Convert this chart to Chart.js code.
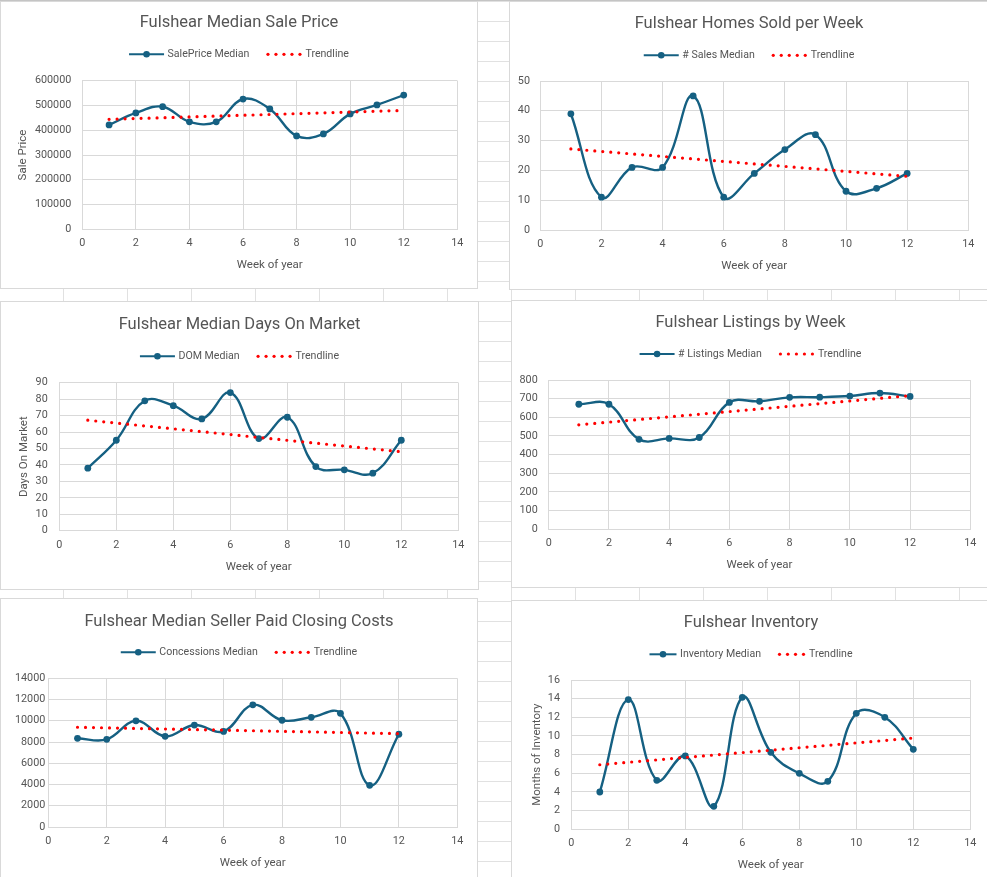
<!DOCTYPE html>
<html>
<head>
<meta charset="utf-8">
<script src="https://cdn.jsdelivr.net/npm/chart.js@4.4.1/dist/chart.umd.min.js"></script>
<style>
  html, body { margin: 0; padding: 0; }
  body {
    width: 987px; height: 877px; overflow: hidden; position: relative;
    background-color: #fff;
    background-image: linear-gradient(to right, #e1e1e1 1px, transparent 1px),
                      linear-gradient(to bottom, #e1e1e1 1px, transparent 1px);
    background-size: 64px 20px;
    background-position: -1px 1px;
  }
  .topline { position: absolute; left: 0; top: 0; width: 987px; height: 1px; background: #c4c4c4; }
  .box { position: absolute; background: #fff; outline: 1px solid #d9d9d9; outline-offset: -1px; }
  .box canvas { position: absolute; left: 0; top: 0; }
</style>
</head>
<body>
<div class="topline"></div>
<div class="box" style="left:0;top:1px;width:478px;height:288px"><canvas id="c1" width="478" height="288"></canvas></div>
<div class="box" style="left:509px;top:1px;width:480px;height:289px"><canvas id="c2" width="480" height="289"></canvas></div>
<div class="box" style="left:0;top:301px;width:479px;height:289px"><canvas id="c3" width="479" height="289"></canvas></div>
<div class="box" style="left:511px;top:300px;width:479px;height:288px"><canvas id="c4" width="479" height="288"></canvas></div>
<div class="box" style="left:0;top:598px;width:478px;height:290px"><canvas id="c5" width="478" height="290"></canvas></div>
<div class="box" style="left:511px;top:600px;width:480px;height:290px"><canvas id="c6" width="480" height="290"></canvas></div>

<script>
// week numbers shared by all six charts
const weeks = [1, 2, 3, 4, 5, 6, 7, 8, 9, 10, 11, 12];
const trendWeeks = [1, 12];

const salePrice = [421500, 470000, 495000, 434000, 434000, 526000, 486000, 377000, 385000, 466000, 502000, 542000];
const salePriceTrend = [444000, 480000];

const homesSold = [39, 11, 21, 21, 45, 11, 19, 27, 32, 13, 14, 19];
const homesSoldTrend = [27.2, 18.0];

const daysOnMarket = [38, 55, 79, 76, 68, 84, 56, 69, 39, 37, 35, 55];
const daysOnMarketTrend = [67.2, 48.0];

const listings = [670, 670, 482, 487, 492, 680, 686, 707, 708, 714, 730, 712];
const listingsTrend = [560, 716];

const concessions = [8350, 8250, 10000, 8540, 9600, 9000, 11500, 10050, 10330, 10700, 3920, 8730];
const concessionsTrend = [9390, 8790];

const inventory = [4.0, 13.9, 5.25, 7.86, 2.46, 14.14, 8.25, 6.0, 5.14, 12.43, 12.0, 8.57];
const inventoryTrend = [6.92, 9.78];

const BLUE = '#156082';
const TEXT = '#555555';
const GRID = '#d9d9d9';
const FONT = 'Roboto, "Liberation Sans", sans-serif';

// title + legend drawn Excel-style (line with marker, round dots)
const excelText = {
  id: 'excelText',
  afterDraw(chart, args, opts) {
    const ctx = chart.ctx;
    const cx = chart.width / 2;
    ctx.save();
    ctx.fillStyle = TEXT;
    ctx.textBaseline = 'middle';
    ctx.textAlign = 'center';
    ctx.font = '16.5px ' + FONT;
    ctx.fillText(opts.title, cx, opts.titleY);

    ctx.font = '10.6px ' + FONT;
    ctx.textAlign = 'left';
    const w1 = ctx.measureText(opts.series).width;
    const w2 = ctx.measureText('Trendline').width;
    const dotsW = (opts.dots - 1) * 8 + 3;
    const total = opts.sampleW + 3.5 + w1 + 17 + dotsW + 4 + w2;
    let x = cx - total / 2;
    const y = opts.legendY;

    ctx.strokeStyle = BLUE;
    ctx.lineWidth = 2;
    ctx.beginPath();
    ctx.moveTo(x, y);
    ctx.lineTo(x + opts.sampleW, y);
    ctx.stroke();
    ctx.fillStyle = BLUE;
    ctx.beginPath();
    ctx.arc(x + opts.sampleW / 2, y, 3.3, 0, Math.PI * 2);
    ctx.fill();
    x += opts.sampleW + 3.5;

    ctx.fillStyle = TEXT;
    ctx.fillText(opts.series, x, y + 0.5);
    x += w1 + 17;

    ctx.fillStyle = '#ff0000';
    for (let i = 0; i < opts.dots; i++) {
      ctx.beginPath();
      ctx.arc(x + 1.5 + i * 8, y, 1.6, 0, Math.PI * 2);
      ctx.fill();
    }
    x += dotsW + 4;

    ctx.fillStyle = TEXT;
    ctx.fillText('Trendline', x, y + 0.5);
    ctx.restore();
  }
};

function points(xs, ys) {
  return xs.map((x, i) => ({ x: x, y: ys[i] }));
}

function makeChart(id, o) {
  const canvas = document.getElementById(id);
  const W = canvas.width, H = canvas.height;
  const p = o.plot;
  const tickFont = { family: FONT, size: 10.8 };
  const titleFont = { family: FONT, size: 11.5 };

  return new Chart(canvas, {
    type: 'scatter',
    data: {
      datasets: [
        {
          label: o.series,
          data: points(weeks, o.values),
          showLine: true,
          tension: 0.4,
          borderColor: BLUE,
          backgroundColor: BLUE,
          borderWidth: 2.4,
          pointRadius: 3.4,
          pointBorderWidth: 0,
          order: 1
        },
        {
          label: 'Trendline',
          data: points(trendWeeks, o.trend),
          showLine: true,
          tension: 0,
          borderColor: '#ff0000',
          borderWidth: 3.2,
          borderDash: [0, 8],
          borderCapStyle: 'round',
          pointRadius: 0,
          order: 0
        }
      ]
    },
    options: {
      responsive: false,
      animation: false,
      events: [],
      layout: { padding: { left: 0, top: p.t, right: W - p.r, bottom: 0 } },
      plugins: {
        legend: { display: false },
        tooltip: { enabled: false },
        excelText: {
          title: o.title, series: o.series,
          titleY: o.titleY, legendY: o.legendY,
          sampleW: o.sampleW || 35, dots: o.dots || 5
        }
      },
      scales: {
        x: {
          type: 'linear',
          min: 0, max: 14,
          ticks: { stepSize: 2, padding: 8, color: TEXT, font: tickFont },
          grid: { color: GRID, drawTicks: false },
          border: { color: GRID },
          title: {
            display: true, text: 'Week of year', color: TEXT, font: titleFont,
            padding: { top: 0, bottom: o.xTitlePad }
          },
          afterFit: (s) => { s.height = H - p.b; }
        },
        y: {
          min: 0, max: o.yMax,
          ticks: {
            stepSize: o.yStep, padding: o.yTickPad, color: TEXT, font: tickFont,
            callback: (v) => String(v)
          },
          grid: { color: GRID, drawTicks: false },
          border: { color: GRID },
          title: {
            display: !!o.yTitle, text: o.yTitle || '', color: TEXT, font: titleFont,
            padding: { top: o.yTitlePad || 0, bottom: 0 }
          },
          afterFit: (s) => { s.width = p.l; }
        }
      }
    },
    plugins: [excelText]
  });
}

makeChart('c1', {
  title: 'Fulshear Median Sale Price', series: 'SalePrice Median',
  values: salePrice, trend: salePriceTrend,
  yMax: 600000, yStep: 100000, yTitle: 'Sale Price', yTitlePad: 16.4, yTickPad: 11,
  plot: { l: 82.3, t: 79.7, r: 457.3, b: 228.3 },
  titleY: 22.3, legendY: 53.3, xTitlePad: 17.1
});

makeChart('c2', {
  title: 'Fulshear Homes Sold per Week', series: '# Sales Median',
  values: homesSold, trend: homesSoldTrend,
  yMax: 50, yStep: 10, yTickPad: 10.3,
  plot: { l: 31.3, t: 80, r: 459.3, b: 229 },
  titleY: 23.3, legendY: 54.3, xTitlePad: 17.1
});

makeChart('c3', {
  title: 'Fulshear Median Days On Market', series: 'DOM Median',
  values: daysOnMarket, trend: daysOnMarketTrend,
  yMax: 90, yStep: 10, yTitle: 'Days On Market', yTitlePad: 17.4, yTickPad: 11.6,
  plot: { l: 59.3, t: 81.7, r: 458.3, b: 229.7 },
  titleY: 24, legendY: 55.3, xTitlePad: 16.4
});

makeChart('c4', {
  title: 'Fulshear Listings by Week', series: '# Listings Median',
  values: listings, trend: listingsTrend,
  yMax: 800, yStep: 100, yTickPad: 11,
  plot: { l: 37.7, t: 80, r: 459.3, b: 229.3 },
  titleY: 23.3, legendY: 54, xTitlePad: 16.1
});

makeChart('c5', {
  title: 'Fulshear Median Seller Paid Closing Costs', series: 'Concessions Median',
  values: concessions, trend: concessionsTrend,
  yMax: 14000, yStep: 2000, yTickPad: 3,
  plot: { l: 48.3, t: 80.3, r: 457.3, b: 229 },
  titleY: 23.7, legendY: 54.3, xTitlePad: 18.4
});

makeChart('c6', {
  title: 'Fulshear Inventory', series: 'Inventory Median',
  values: inventory, trend: inventoryTrend,
  yMax: 16, yStep: 2, yTitle: 'Months of Inventory', yTitlePad: 18.8, yTickPad: 11.3,
  plot: { l: 60.3, t: 80, r: 459.3, b: 229.3 },
  titleY: 23.3, legendY: 54.3, xTitlePad: 18.1,
  sampleW: 27, dots: 4
});
</script>
</body>
</html>
